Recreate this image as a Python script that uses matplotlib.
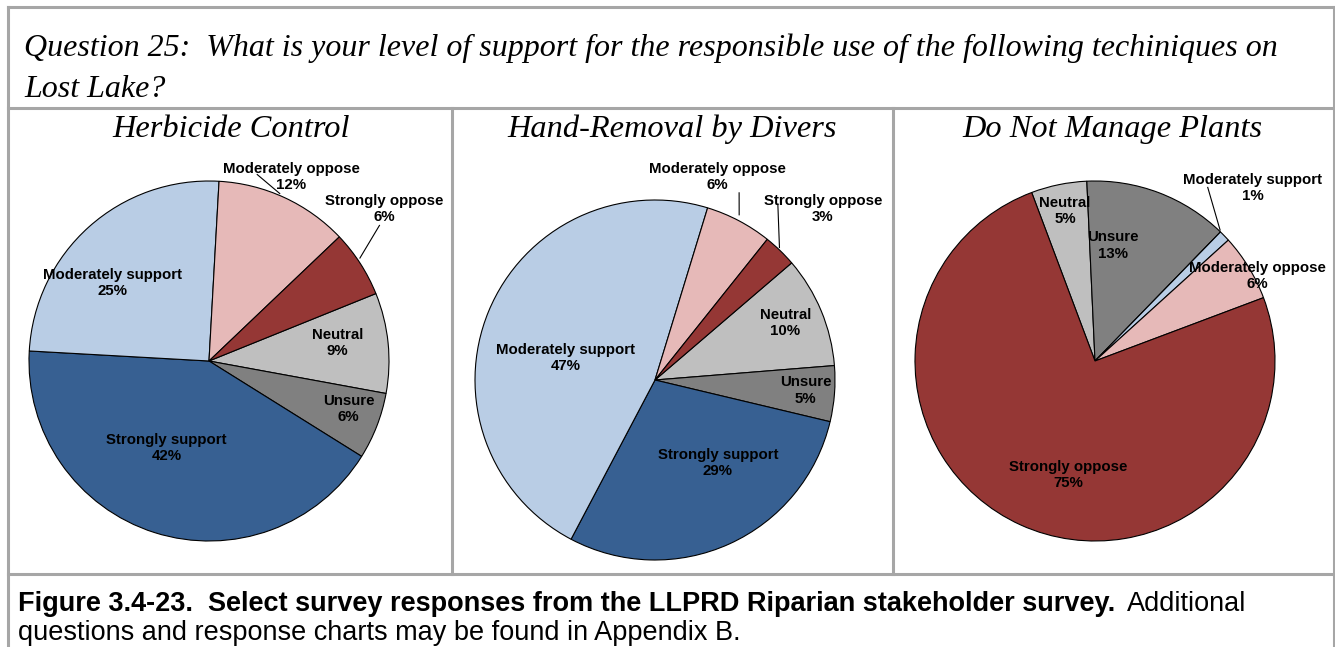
import numpy as np
import matplotlib.pyplot as plt
from matplotlib.lines import Line2D

# survey answers, same order for every pie (clockwise)
categories = ['Neutral', 'Unsure', 'Strongly support', 'Moderately support',
              'Moderately oppose', 'Strongly oppose']
colors = ['#BFBFBF', '#808080', '#376092', '#B9CDE5', '#E6B9B8', '#953735']

titles = ['Herbicide Control', 'Hand-Removal by Divers', 'Do Not Manage Plants']
herbicide = [9, 6, 42, 25, 12, 6]
hand_removal = [10, 5, 29, 47, 6, 3]
do_not_manage = [5, 13, 0, 1, 6, 75]

W, H = 1335, 647
fig = plt.figure(figsize=(W / 100, H / 100), dpi=100)
fig.patch.set_facecolor('white')

serif = 'Liberation Serif'
sans = 'Liberation Sans'


def fx(px):
    return px / W


def fy(py):
    return 1 - py / H


# frame lines
grey = '#A6A6A6'
frame = [
    ((8, 1334), (6.5, 6.5)),
    ((8, 8), (6.5, 647)),
    ((1333.5, 1333.5), (6.5, 647)),
    ((8, 1334), (107.5, 107.5)),
    ((8, 1334), (574, 574)),
    ((452, 452), (107.5, 574)),
    ((893, 893), (107.5, 574)),
]
for xs, ys in frame:
    fig.add_artist(Line2D([fx(x) for x in xs], [fy(y) for y in ys],
                          color=grey, lw=2.2, transform=fig.transFigure))

# question text
fig.text(fx(24), fy(56), 'Question 25:  What is your level of support for the responsible use of '
         'the following techiniques on', family=serif, style='italic', fontsize=23,
         va='baseline', ha='left')
fig.text(fx(24), fy(97), 'Lost Lake?', family=serif, style='italic', fontsize=23,
         va='baseline', ha='left')

# pie layout: centre (px), radius (px), where Neutral starts (deg clockwise from top)
centers = [(209, 361), (655, 380), (1095, 361)]
title_x = [231, 672, 1112]
R = 180
starts = [68, 49.4, -20.6]

# label placement (radius factor, angle cw from top)
label_pos = [
    [(0.72, 82), (0.82, 109), (0.54, 206), (0.69, 309), (1.12, 24), (1.29, 49)],
    [(0.79, 66.5), (0.84, 94), (0.58, 143), (0.51, 284), (1.18, 17), (1.33, 44.5)],
    [(0.85, -11.3), (0.65, 9), None, (1.30, 42.4), (1.02, 62.3), (0.65, 193)],
]
leaders = [
    [((1.01, 22.9), (1.07, 14.5)), ((1.015, 55.7), (1.21, 51.5))],
    [((1.03, 27), (1.14, 24.2)), ((1.01, 43.2), (1.19, 35))],
    [((1.006, 43.7), (1.15, 33))],
]


def polar(r, a):
    a = np.radians(a)
    return r * np.sin(a), r * np.cos(a)


k = 1.05
for i, vals in enumerate([herbicide, hand_removal, do_not_manage]):
    cx, cy = centers[i]
    ax = fig.add_axes([fx(cx - k * R), fy(cy + k * R), 2 * k * R / W, 2 * k * R / H])
    ax.pie(vals, colors=colors, startangle=90 - starts[i], counterclock=False,
           wedgeprops=dict(edgecolor='black', linewidth=0.8))
    ax.set_xlim(-k, k)
    ax.set_ylim(-k, k)
    ax.set_aspect('equal')
    ax.axis('off')

    for cat, v, pos in zip(categories, vals, label_pos[i]):
        if v == 0 or pos is None:
            continue
        x, y = polar(*pos)
        ax.text(x, y, f'{cat}\n{v}%', ha='center', va='center', family=sans,
                fontweight='bold', fontsize=10.8, linespacing=1.2, clip_on=False)
    for p0, p1 in leaders[i]:
        x0, y0 = polar(*p0)
        x1, y1 = polar(*p1)
        ax.plot([x0, x1], [y0, y1], color='black', lw=0.8, clip_on=False)

    fig.text(fx(title_x[i]), fy(137), titles[i], family=serif, style='italic',
             fontsize=23.3, ha='center', va='baseline')

# caption
bold = fig.text(fx(18), fy(611), 'Figure 3.4-23.  Select survey responses from the LLPRD '
                'Riparian stakeholder survey.', family=sans, fontweight='bold',
                fontsize=19.5, va='baseline', ha='left')
fig.canvas.draw()
bb = bold.get_window_extent()
fig.text(bb.x1 / W + fx(12), fy(611), 'Additional', family=sans, fontsize=19.5,
         va='baseline', ha='left')
fig.text(fx(18), fy(640), 'questions and response charts may be found in Appendix B.',
         family=sans, fontsize=19.5, va='baseline', ha='left')

fig.savefig('out.png', dpi=100)
